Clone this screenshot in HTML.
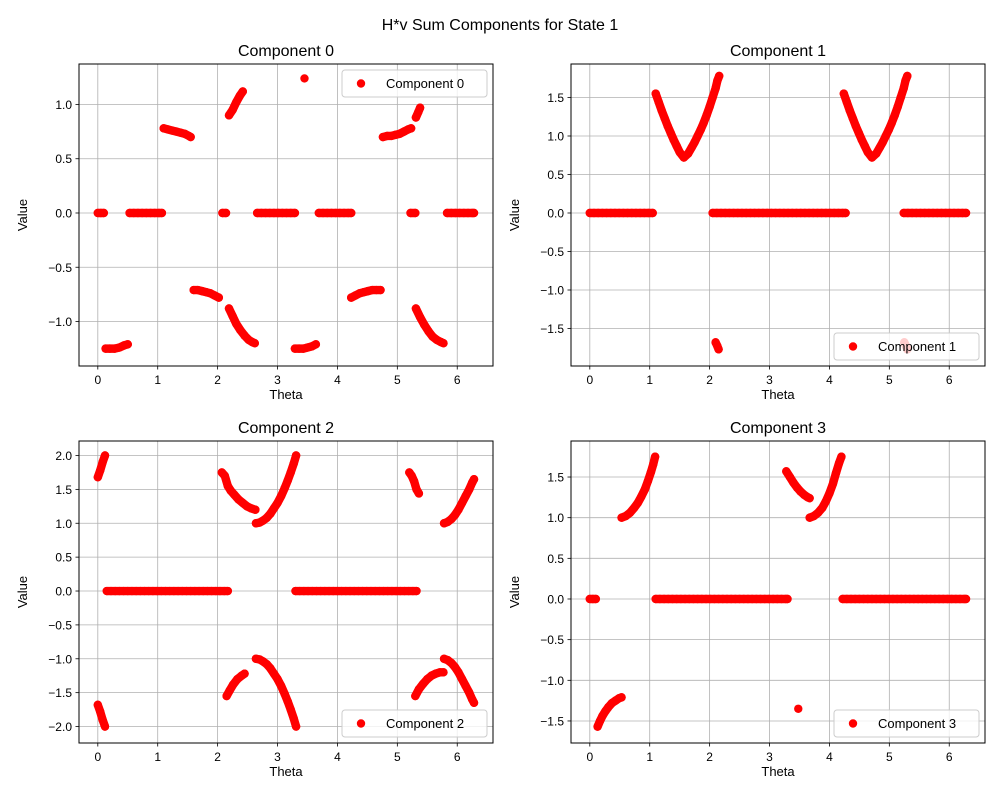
<!DOCTYPE html>
<html><head><meta charset="utf-8">
<style>
html,body{margin:0;padding:0;background:#fff;}
svg{display:block;font-family:"Liberation Sans","DejaVu Sans",sans-serif;}
</style></head>
<body>
<svg id="fig" width="1000" height="800" viewBox="0 0 1000 800" xmlns="http://www.w3.org/2000/svg">
<rect width="1000" height="800" fill="#fff"/>
<text x="500" y="30" text-anchor="middle" font-size="16" fill="#000">H*v Sum Components for State 1</text>
</svg>
<script>
// ---- Component 0 data ----
const theta0 = [0,0.05,0.1, 0.13,0.2,0.28,0.36,0.44,0.5, 0.53,0.6,0.67,0.74,0.81,0.88,0.95,1.02,1.07, 1.1,1.17,1.24,1.31,1.38,1.45,1.52,1.55, 1.6,1.67,1.74,1.81,1.88,1.95,2.02, 2.08,2.14, 2.19,2.25,2.31,2.37,2.42, 2.19,2.25,2.31,2.38,2.45,2.52,2.58,2.62, 2.66,2.73,2.8,2.87,2.94,3.01,3.08,3.15,3.22,3.29, 3.29,3.36,3.43,3.5,3.57,3.64, 3.45, 3.69,3.76,3.83,3.9,3.97,4.04,4.11,4.18,4.23, 4.23,4.3,4.37,4.44,4.51,4.58,4.65,4.72, 4.76,4.83,4.9,4.97,5.04,5.11,5.18,5.23, 5.22,5.3, 5.31,5.35,5.38, 5.31,5.38,5.45,5.52,5.59,5.66,5.73,5.77, 5.83,5.9,5.97,6.04,6.11,6.18,6.25,6.28];
const value0 = [0,0,0, -1.25,-1.25,-1.25,-1.24,-1.22,-1.21, 0,0,0,0,0,0,0,0,0, 0.78,0.77,0.76,0.75,0.74,0.73,0.71,0.70, -0.71,-0.71,-0.72,-0.73,-0.74,-0.76,-0.78, 0,0, 0.9,0.95,1.02,1.08,1.12, -0.88,-0.95,-1.02,-1.08,-1.13,-1.17,-1.19,-1.2, 0,0,0,0,0,0,0,0,0,0, -1.25,-1.25,-1.25,-1.24,-1.23,-1.21, 1.24, 0,0,0,0,0,0,0,0,0, -0.78,-0.76,-0.74,-0.73,-0.72,-0.71,-0.71,-0.71, 0.70,0.71,0.71,0.72,0.73,0.75,0.77,0.78, 0,0, 0.88,0.93,0.97, -0.88,-0.96,-1.03,-1.09,-1.14,-1.17,-1.19,-1.2, 0,0,0,0,0,0,0,0];
// ---- Component 1 data ----
const theta1 = [0,0.07,0.14,0.21,0.28,0.35,0.42,0.49,0.56,0.63,0.7,0.77,0.84,0.91,0.98,1.05, 1.1,1.15,1.2,1.25,1.3,1.35,1.4,1.45,1.5,1.57,1.64,1.7,1.75,1.8,1.85,1.9,1.95,2.0,2.05,2.1,2.13,2.16, 2.1,2.13,2.15, 2.05,2.12,2.19,2.26,2.33,2.4,2.47,2.54,2.61,2.68,2.75,2.82,2.89,2.96,3.03,3.1,3.17,3.24,3.31,3.38,3.45,3.52,3.59,3.66,3.73,3.8,3.87,3.94,4.01,4.08,4.15,4.22,4.27, 4.24,4.29,4.34,4.39,4.44,4.49,4.54,4.59,4.64,4.71,4.78,4.84,4.89,4.94,4.99,5.04,5.09,5.14,5.19,5.24,5.27,5.3, 5.25,5.28,5.3, 5.24,5.31,5.38,5.45,5.52,5.59,5.66,5.73,5.8,5.87,5.94,6.01,6.08,6.15,6.22,6.28];
const value1 = [0,0,0,0,0,0,0,0,0,0,0,0,0,0,0,0, 1.55,1.44,1.33,1.23,1.13,1.04,0.95,0.87,0.79,0.72,0.77,0.85,0.92,1.0,1.08,1.17,1.27,1.38,1.5,1.62,1.72,1.78, -1.68,-1.73,-1.77, 0,0,0,0,0,0,0,0,0,0,0,0,0,0,0,0,0,0,0,0,0,0,0,0,0,0,0,0,0,0,0,0,0, 1.55,1.44,1.33,1.23,1.13,1.04,0.95,0.87,0.79,0.72,0.77,0.85,0.92,1.0,1.08,1.17,1.27,1.38,1.5,1.62,1.72,1.78, -1.68,-1.73,-1.77, 0,0,0,0,0,0,0,0,0,0,0,0,0,0,0,0];
// ---- Component 2 data ----
const theta2 = [0,0.04,0.08,0.12, 0,0.04,0.08,0.12, 0.15,0.22,0.29,0.36,0.43,0.5,0.57,0.64,0.71,0.78,0.85,0.92,0.99,1.06,1.13,1.2,1.27,1.34,1.41,1.48,1.55,1.62,1.69,1.76,1.83,1.9,1.97,2.04,2.11,2.17, 2.07,2.12,2.17,2.22,2.28,2.35,2.42,2.49,2.56,2.63, 2.15,2.2,2.26,2.33,2.4,2.45, 2.64,2.7,2.76,2.82,2.88,2.94,3.0,3.06,3.12,3.17,3.22,3.27,3.31, 2.64,2.7,2.76,2.82,2.88,2.94,3.0,3.06,3.12,3.17,3.22,3.27,3.31, 3.3,3.37,3.44,3.51,3.58,3.65,3.72,3.79,3.86,3.93,4.0,4.07,4.14,4.21,4.28,4.35,4.42,4.49,4.56,4.63,4.7,4.77,4.84,4.91,4.98,5.05,5.12,5.19,5.26,5.32, 5.2,5.24,5.28,5.32,5.36, 5.3,5.36,5.43,5.5,5.57,5.64,5.71,5.77, 5.78,5.84,5.9,5.96,6.02,6.08,6.14,6.2,6.25,6.28, 5.78,5.84,5.9,5.96,6.02,6.08,6.14,6.2,6.25,6.28];
const value2 = [1.68,1.78,1.9,2.0, -1.68,-1.78,-1.9,-2.0, 0,0,0,0,0,0,0,0,0,0,0,0,0,0,0,0,0,0,0,0,0,0,0,0,0,0,0,0,0,0, 1.75,1.7,1.55,1.48,1.42,1.35,1.3,1.25,1.22,1.2, -1.55,-1.47,-1.38,-1.3,-1.25,-1.22, -1.0,-1.01,-1.04,-1.08,-1.14,-1.22,-1.3,-1.4,-1.52,-1.63,-1.75,-1.88,-2.0, 1.0,1.01,1.04,1.08,1.14,1.22,1.3,1.4,1.52,1.63,1.75,1.88,2.0, 0,0,0,0,0,0,0,0,0,0,0,0,0,0,0,0,0,0,0,0,0,0,0,0,0,0,0,0,0,0, 1.75,1.7,1.62,1.5,1.44, -1.55,-1.45,-1.37,-1.3,-1.25,-1.22,-1.2,-1.2, 1.0,1.02,1.06,1.12,1.2,1.3,1.4,1.5,1.6,1.65, -1.0,-1.02,-1.06,-1.12,-1.2,-1.3,-1.4,-1.5,-1.6,-1.65];
// ---- Component 3 data ----
const theta3 = [0,0.05,0.1, 0.13,0.17,0.21,0.26,0.31,0.37,0.43,0.49,0.53, 0.53,0.6,0.67,0.74,0.8,0.86,0.92,0.97,1.02,1.06,1.09, 1.1,1.17,1.24,1.31,1.38,1.45,1.52,1.59,1.66,1.73,1.8,1.87,1.94,2.01,2.08,2.15,2.22,2.29,2.36,2.43,2.5,2.57,2.64,2.71,2.78,2.85,2.92,2.99,3.06,3.13,3.2,3.27,3.3, 3.28,3.34,3.4,3.46,3.52,3.58,3.64,3.67, 3.48, 3.67,3.74,3.81,3.88,3.94,4.0,4.06,4.11,4.16,4.2, 4.22,4.29,4.36,4.43,4.5,4.57,4.64,4.71,4.78,4.85,4.92,4.99,5.06,5.13,5.2,5.27,5.34,5.41,5.48,5.55,5.62,5.69,5.76,5.83,5.9,5.97,6.04,6.11,6.18,6.25,6.28];
const value3 = [0,0,0, -1.57,-1.5,-1.44,-1.38,-1.33,-1.28,-1.25,-1.22,-1.21, 1.0,1.02,1.06,1.12,1.18,1.26,1.35,1.45,1.56,1.66,1.75, 0,0,0,0,0,0,0,0,0,0,0,0,0,0,0,0,0,0,0,0,0,0,0,0,0,0,0,0,0,0,0,0,0, 1.57,1.5,1.43,1.37,1.32,1.28,1.25,1.24, -1.35, 1.0,1.02,1.06,1.12,1.2,1.3,1.42,1.55,1.67,1.75, 0,0,0,0,0,0,0,0,0,0,0,0,0,0,0,0,0,0,0,0,0,0,0,0,0,0,0,0,0,0,0];
// ---- tick labels ----
const xTicks = [0,1,2,3,4,5,6];
const yTicks0 = [-1.0,-0.5,0.0,0.5,1.0];
const yTicks1 = [-1.5,-1.0,-0.5,0.0,0.5,1.0,1.5];
const yTicks2 = [-2.0,-1.5,-1.0,-0.5,0.0,0.5,1.0,1.5,2.0];
const yTicks3 = [-1.5,-1.0,-0.5,0.0,0.5,1.0,1.5];

const NS = "http://www.w3.org/2000/svg";
const svg = document.getElementById('fig');
function mk(tag, attrs, parent){ const e=document.createElementNS(NS,tag); for(const k in attrs) e.setAttribute(k,attrs[k]); (parent||svg).appendChild(e); return e; }

const panels = [
 {name:'component-0', title:'Component 0', L:79, T:64, W:414, H:302, ymin:-1.41, ymax:1.373, th:theta0, v:value0, yt:yTicks0, leg:'tr'},
 {name:'component-1', title:'Component 1', L:571, T:64, W:414, H:302, ymin:-1.987, ymax:1.935, th:theta1, v:value1, yt:yTicks1, leg:'br'},
 {name:'component-2', title:'Component 2', L:79, T:441, W:414, H:302, ymin:-2.243, ymax:2.214, th:theta2, v:value2, yt:yTicks2, leg:'br'},
 {name:'component-3', title:'Component 3', L:571, T:441, W:414, H:302, ymin:-1.771, ymax:1.943, th:theta3, v:value3, yt:yTicks3, leg:'br'}
];
const XMIN=-0.314, XMAX=6.597;

panels.forEach(p=>{
  const g = mk('g',{});
  
  
  const xs = x => p.L + (x-XMIN)/(XMAX-XMIN)*p.W;
  const ys = y => p.T + (p.ymax-y)/(p.ymax-p.ymin)*p.H;
  xTicks.forEach(t=>{
    const X=xs(t);
    const gl=mk('line',{x1:X,y1:p.T,x2:X,y2:p.T+p.H,stroke:'#b0b0b0','stroke-width':0.8},g);
    
    
    const tk=mk('line',{x1:X,y1:p.T+p.H,x2:X,y2:p.T+p.H+3.5,stroke:'#000','stroke-width':0.8},g);
    
    
    const tl=mk('text',{x:X,y:p.T+p.H+18,'text-anchor':'middle','font-size':12,fill:'#000'},g);
    tl.textContent=String(t);
    
    
  });
  p.yt.forEach(t=>{
    const Y=ys(t);
    const gl=mk('line',{x1:p.L,y1:Y,x2:p.L+p.W,y2:Y,stroke:'#b0b0b0','stroke-width':0.8},g);
    
    
    const tk=mk('line',{x1:p.L-3.5,y1:Y,x2:p.L,y2:Y,stroke:'#000','stroke-width':0.8},g);
    
    
    const tl=mk('text',{x:p.L-7,y:Y+4.5,'text-anchor':'end','font-size':12,fill:'#000'},g);
    tl.textContent=(t<0?'\u2212':'')+Math.abs(t).toFixed(1);
    
    
  });
  const cp='clip-'+p.name;
  const cl=mk('clipPath',{id:cp},g); mk('rect',{x:p.L,y:p.T,width:p.W,height:p.H},cl);
  const pts=mk('g',{'clip-path':'url(#'+cp+')'},g);
  
  
  // dense band: connect consecutive points of the same run
  let run=[];
  const flush=()=>{
    if(run.length>1){
      const pl=mk('polyline',{points:run.map(q=>q.join(',')).join(' '),fill:'none',stroke:'#ff0000','stroke-width':8.4,'stroke-linecap':'round','stroke-linejoin':'round'},pts);
      
      
    }
    run=[];
  };
  p.th.forEach((t,i)=>{
    if(i>0){
      const dt=t-p.th[i-1], dv=Math.abs(p.v[i]-p.v[i-1]);
      if(dt<0 || dt>0.12 || dv>0.2) flush();
    }
    run.push([xs(t),ys(p.v[i])]);
    const c=mk('circle',{cx:xs(t),cy:ys(p.v[i]),r:4.2,fill:'#ff0000'},pts);
    
    
  });
  flush();
  const fr=mk('rect',{x:p.L,y:p.T,width:p.W,height:p.H,fill:'none',stroke:'#000','stroke-width':1},g);
  
  
  const tt=mk('text',{x:p.L+p.W/2,y:p.T-8,'text-anchor':'middle','font-size':16,fill:'#000'},g);
  tt.textContent=p.title;
  
  
  const xl=mk('text',{x:p.L+p.W/2,y:p.T+p.H+33,'text-anchor':'middle','font-size':13,fill:'#000'},g);
  xl.textContent='Theta';
  
  
  const yx=p.L-52, yy=p.T+p.H/2;
  const yl=mk('text',{x:yx,y:yy,'text-anchor':'middle','font-size':13,fill:'#000',transform:'rotate(-90 '+yx+' '+yy+')'},g);
  yl.textContent='Value';
  
  
  const lw=145, lh=27;
  const lx=p.L+p.W-6-lw, ly = p.leg==='tr' ? p.T+6 : p.T+p.H-6-lh;
  const lg=mk('g',{},g);
  
  
  mk('rect',{x:lx,y:ly,width:lw,height:lh,rx:3,fill:'#fff','fill-opacity':0.8,stroke:'#cccccc','stroke-width':1},lg);
  const lm=mk('circle',{cx:lx+19,cy:ly+lh/2,r:4.2,fill:'#ff0000'},lg);
  
  
  const lt=mk('text',{x:lx+44,y:ly+lh/2+4.5,'font-size':13,fill:'#000'},lg);
  lt.textContent=p.title;
  
  
});
</script>
</body></html>
